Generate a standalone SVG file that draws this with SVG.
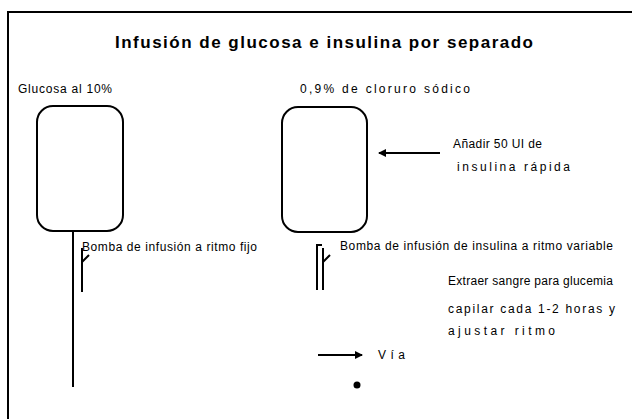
<svg xmlns="http://www.w3.org/2000/svg" width="632" height="419" viewBox="0 0 632 419">
<style>
.ln{fill:none;stroke:#000;stroke-width:2}
.bag{fill:none;stroke:#000;stroke-width:2}
.t{font-family:"Liberation Sans",Arial,sans-serif;font-size:12px;fill:#000}
.title{font-family:"Liberation Sans",Arial,sans-serif;font-size:17px;font-weight:bold;fill:#000}
</style>
<defs>
<marker id="ah" markerWidth="8" markerHeight="8" refX="7" refY="4" orient="auto" markerUnits="userSpaceOnUse">
<path d="M0,0 L8,4 L0,8 Z" fill="#000"/>
</marker>
</defs>
<rect x="8" y="12" width="640" height="420" fill="#fff" stroke="#000" stroke-width="2"/>
<text class="title" x="115" y="48" textLength="418" lengthAdjust="spacing">Infusión de glucosa e insulina por separado</text>

<g id="bolsa-glucosa">
<rect class="bag" x="37" y="106" width="86" height="125" rx="16" ry="16"/>
<text class="t" x="18" y="93" textLength="94" lengthAdjust="spacing">Glucosa al 10%</text>
</g>
<g id="linea-glucosa">
<line class="ln" x1="73" y1="232" x2="73" y2="387"/>
<path class="ln" d="M82,292 L82,248 M82,262 L89,255"/>
<text class="t" x="82" y="251" textLength="175" lengthAdjust="spacing">Bomba de infusión a ritmo fijo</text>
</g>

<g id="bolsa-insulina">
<rect class="bag" x="282" y="107" width="85" height="125" rx="16" ry="16"/>
<text class="t" x="300" y="93" textLength="170" lengthAdjust="spacing">0,9% de cloruro sódico</text>
</g>
<g id="linea-insulina">
<path class="ln" d="M322,245 L317,245 L317,290"/>
<path class="ln" d="M323,248 L323,290 M323,262 L330,255"/>
<text class="t" x="340" y="250" textLength="273" lengthAdjust="spacing">Bomba de infusión de insulina a ritmo variable</text>
</g>

<g id="nota-insulina">
<text class="t" x="453" y="148" textLength="89" lengthAdjust="spacing">Añadir 50 UI de</text>
<text class="t" x="457" y="171" textLength="113" lengthAdjust="spacing">insulina rápida</text>
</g>

<g id="nota-glucemia">
<text class="t" x="448" y="285" textLength="165" lengthAdjust="spacing">Extraer sangre para glucemia</text>
<text class="t" x="448" y="313" textLength="167" lengthAdjust="spacing">capilar cada 1-2 horas y</text>
<text class="t" x="448" y="335" textLength="107" lengthAdjust="spacing">ajustar ritmo</text>
</g>

<g id="leyenda">
<text class="t" x="378" y="359" textLength="27" lengthAdjust="spacing">Vía</text>
<circle cx="357" cy="385" r="3.5" fill="#000"/>
</g>

<g id="conectores">
<line class="ln" x1="440" y1="153" x2="379" y2="153" marker-end="url(#ah)"/>
<line class="ln" x1="318" y1="355" x2="362" y2="355" marker-end="url(#ah)"/>
</g>
</svg>
